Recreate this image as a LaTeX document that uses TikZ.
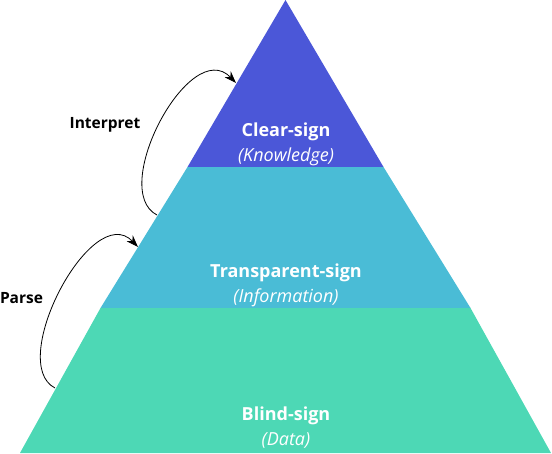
\documentclass[tikz,border=0pt]{standalone}
\usepackage{fontspec}
\setmainfont{Open Sans}
\usepackage{xcolor}
\usepackage{tikz}
\usetikzlibrary{arrows.meta, positioning}
\definecolor{clearblue}{RGB}{75, 87, 216}
\definecolor{transcyan}{RGB}{74, 188, 214}
\definecolor{blindgreen}{RGB}{77, 216, 181}

\begin{document}
\begin{tikzpicture}[x=1pt, y=1pt,
    tiername/.style={text=white, font=\fontsize{18}{21}\selectfont\bfseries},
    tiersub/.style={text=white, font=\fontsize{18}{21}\selectfont\itshape},
    steplabel/.style={font=\fontsize{15.5}{18}\selectfont\bfseries},
    steparrow/.style={-{Stealth[length=12pt, width=8.5pt]}, line width=0.8pt}]
  \useasboundingbox (0,0) rectangle (552,453);
  \coordinate (apex) at (285.5,453);
  \coordinate (bl) at (20,0);
  \coordinate (br) at (551,0);
  % tiers
  \fill[blindgreen] (bl) -- (br) -- (470.5,145) -- (100.5,145) -- cycle;
  \fill[transcyan] (100.5,145) -- (470.5,145) -- (383.5,286) -- (187.5,286) -- cycle;
  \fill[clearblue] (187.5,286) -- (383.5,286) -- (apex) -- cycle;
  \node[tiername] (clear) at (286,321) {Clear-sign};
  \node[tiersub] (knowledge) at (286,296) {(Knowledge)};
  \node[tiername] (transparent) at (286,180) {Transparent-sign};
  \node[tiersub] (information) at (286,155) {(Information)};
  \node[tiername] (blind) at (286,37) {Blind-sign};
  \node[tiersub] (data) at (286,13) {(Data)};
  % arrows along the left edge
  \coordinate (parsefrom) at (55,65);
  \coordinate (parseto) at (138,206);
  \coordinate (interpfrom) at (157,238);
  \coordinate (interpto) at (236,370);
  \draw[steparrow] (parsefrom) .. controls (6,90) and (92,254) .. (parseto);
  \draw[steparrow] (interpfrom) .. controls (108,263) and (190,418) .. (interpto);
  \node[steplabel] (parse) at (21.5,155) {Parse};
  \node[steplabel] (interpret) at (105,328) {Interpret};
\end{tikzpicture}
\end{document}
